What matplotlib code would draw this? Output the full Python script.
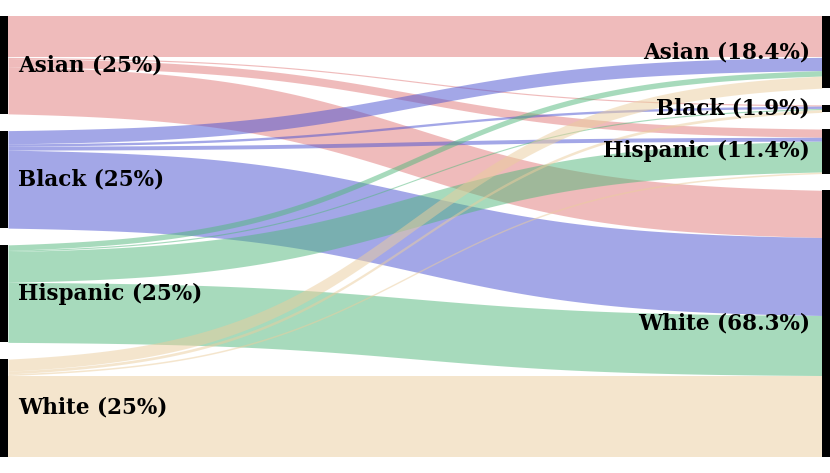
import numpy as np
import matplotlib
matplotlib.use("Agg")
import matplotlib.pyplot as plt

# ===== DATA =====
groups = ["Asian", "Black", "Hispanic", "White"]
# flow[i][j] = percent of total going from left group i to right group j
flow_asian = [10.5, 0.3, 2.1, 12.1]
flow_black = [3.4, 0.6, 1.0, 20.0]
flow_hispanic = [1.4, 0.3, 7.9, 15.4]
flow_white = [3.1, 0.7, 0.4, 20.8]
colors = ["#e17979", "#4951d1", "#51b77b", "#ebcd9d"]
# ================

flows = np.array([flow_asian, flow_black, flow_hispanic, flow_white])
left_tot = flows.sum(axis=1)
right_tot = flows.sum(axis=0)

gap = 4.3
bar_w = 0.0098
alpha = 0.5
font = "DejaVu Serif"


def node_tops(totals):
    tops = []
    y = 0.0
    for t in totals:
        tops.append(y)
        y += t + gap
    return np.array(tops)


left_top = node_tops(left_tot)
right_top = node_tops(right_tot)
span = left_top[-1] + left_tot[-1]

fig = plt.figure(figsize=(8.3, 4.73), dpi=100)
ax = fig.add_axes([0, 0, 1, 1])
ax.axis("off")

# right side stacks by source order
right_start = np.zeros_like(flows)
for j in range(len(groups)):
    y = right_top[j]
    for i in range(len(groups)):
        right_start[i, j] = y
        y += flows[i, j]

# logistic S-curve, rescaled to run exactly 0 -> 1
xs = np.linspace(0, 1, 400)
k = 8
s = 1 / (1 + np.exp(-k * (xs - 0.5)))
s = (s - s[0]) / (s[-1] - s[0])

for i in range(len(groups)):
    y = left_top[i]
    for j in range(len(groups)):
        v = flows[i, j]
        top = y + (right_start[i, j] - y) * s
        ax.fill_between(xs, top, top + v, color=colors[i], alpha=alpha, lw=0)
        y += v

# node bars + labels
for i in range(len(groups)):
    ax.fill_between([-bar_w, 0], left_top[i], left_top[i] + left_tot[i], color="black", lw=0)
    ax.fill_between([1, 1 + bar_w], right_top[i], right_top[i] + right_tot[i], color="black", lw=0)
    ax.text(0.012, left_top[i] + left_tot[i] / 2, f"{groups[i]} ({left_tot[i]:.3g}%)",
            ha="left", va="center", fontsize=15.5, fontweight="bold", fontname=font)
    ax.text(1 - 0.015, right_top[i] + right_tot[i] / 2, f"{groups[i]} ({right_tot[i]:.3g}%)",
            ha="right", va="center", fontsize=15.5, fontweight="bold", fontname=font)

margin = 4.2
ax.set_xlim(-bar_w, 1 + bar_w)
ax.set_ylim(span + margin, -margin)

fig.savefig("out.png", dpi=100)
